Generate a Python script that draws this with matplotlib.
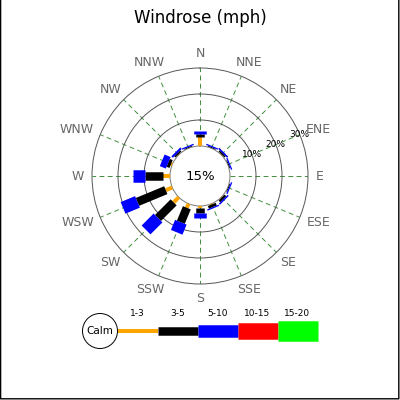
import numpy as np
import matplotlib
matplotlib.use('Agg')
import matplotlib.pyplot as plt
from matplotlib.patches import Circle
from matplotlib.transforms import offset_copy

# 风向与风速等级
directions = ['N', 'NNE', 'NE', 'ENE', 'E', 'ESE', 'SE', 'SSE',
              'S', 'SSW', 'SW', 'WSW', 'W', 'WNW', 'NW', 'NNW']
speed_classes = ['1-3', '3-5', '5-10', '10-15', '15-20']
class_colors = ['#ffa500', '#000000', '#0000ff', '#ff0000', '#00ff00']

# 各方向各风速段的百分比
v_1_3 = [3.4, 0.1, 0.2, 0.1, 0.0, 0.1, 0.2, 0.3, 0.9, 1.7, 2.8, 2.7, 2.7, 0.5, 0.2, 0.1]
v_3_5 = [1.4, 0.3, 0.6, 0.3, 0.0, 0.3, 0.9, 1.1, 1.7, 6.0, 8.5, 11.8, 6.8, 1.2, 0.6, 0.3]
v_5_10 = [1.0, 0.5, 0.6, 0.5, 0.1, 0.5, 0.6, 0.5, 2.2, 4.2, 6.5, 6.0, 4.7, 2.5, 0.8, 0.5]
v_10_15 = [0, 0, 0, 0, 0, 0, 0, 0, 0, 0, 0, 0, 0, 0, 0, 0]
v_15_20 = [0, 0, 0, 0, 0, 0, 0, 0, 0, 0, 0, 0, 0, 0, 0, 0]
calm = 15
rings = [10, 20, 30]

series = [v_1_3, v_3_5, v_5_10, v_10_15, v_15_20]
widths_px = [4, 8.5, 12.5, 16.5, 20.5]
widths = [w * 0.72 for w in widths_px]

fig = plt.figure(figsize=(4, 4), dpi=100)
fig.patch.set_facecolor('white')

# 极坐标: 中心 (200,176) 像素, 外圈半径 108 像素, 静风圈 30 像素
ax = fig.add_axes([0.23, 0.29, 0.54, 0.54], projection='polar')
ax.set_theta_zero_location('N')
ax.set_theta_direction(-1)
r0 = 30 / 2.6
ax.set_ylim(0, rings[-1])
ax.set_rorigin(-r0)

angles = np.deg2rad(np.arange(16) * 22.5)
ax.set_xticks(angles)
ax.set_xticklabels([])
ax.set_yticks(rings[:-1])
ax.set_yticklabels([])
ax.xaxis.grid(True, color='#3f8f3f', linestyle=(0, (5, 3.5)), linewidth=0.7)
ax.yaxis.grid(True, color='#555555', linestyle='-', linewidth=0.7)
ax.spines['polar'].set_color('#555555')
ax.spines['polar'].set_linewidth(0.7)
ax.spines['inner'].set_color('#777777')
ax.spines['inner'].set_linewidth(0.7)

# 画风玫瑰的柱
for i, a in enumerate(angles):
    start = 0
    for k, vals in enumerate(series):
        v = vals[i]
        if v > 0:
            ax.plot([a, a], [start, start + v], color=class_colors[k],
                    linewidth=widths[k], solid_capstyle='butt', zorder=3)
        start += v

ax.text(0.5, 0.5, f'{calm}%', transform=ax.transAxes, ha='center',
        va='center', fontsize=9.5, color='black')

for r in rings:
    ax.text(np.deg2rad(67.5), r, f'{r}%', ha='center', va='center',
            fontsize=6.5, color='black', zorder=4)

# 方位标签
lab_r = 116 / 2.6 - r0
lab_texts = []
for a, d in zip(angles, directions):
    t = ax.text(a, lab_r, d, ha='center', va='center', fontsize=9,
                color='#666666', clip_on=False)
    lab_texts.append(t)

fig.text(0.5, 1 - 18 / 400, 'Windrose (mph)', ha='center', va='center',
         fontsize=12, color='black')

fig.canvas.draw()
rend = fig.canvas.get_renderer()
for t, a in zip(lab_texts, angles):
    bb = t.get_window_extent(rend)
    t.set_transform(offset_copy(ax.transData, fig=fig,
                                x=bb.width / 2 * np.sin(a),
                                y=bb.height / 2 * np.cos(a), units='dots'))

# 图例 (像素坐标)
lg = fig.add_axes([0, 0, 1, 1])
lg.set_xlim(0, 400)
lg.set_ylim(400, 0)
lg.axis('off')
cx, cy, cr = 100, 331, 17.5
lg.add_patch(Circle((cx, cy), cr, facecolor='white', edgecolor='black', linewidth=0.7))
lg.text(cx, cy, 'Calm', ha='center', va='center', fontsize=7.5)
seg = 40
for k, name in enumerate(speed_classes):
    x1 = cx + cr + k * seg
    lg.plot([x1, x1 + seg], [cy, cy], color=class_colors[k], linewidth=widths[k],
            solid_capstyle='butt')
    lg.text(x1 + seg / 2, 314, name, ha='center', va='center', fontsize=6.5)

# 边框 (左、右、下)
lg.plot([0.6, 0.6, 398.8, 398.8], [0, 398.8, 398.8, 0], color='black',
        linewidth=1.0, clip_on=False, solid_capstyle='butt', snap=False)

fig.savefig('out.png', dpi=100)
